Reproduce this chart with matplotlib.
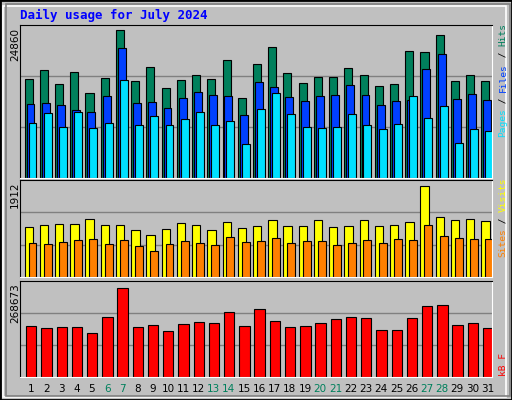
import numpy as np
import matplotlib
matplotlib.use('Agg')
import matplotlib.pyplot as plt
from matplotlib.patches import Rectangle

days = list(range(1, 32))
weekend = [6, 7, 13, 14, 20, 21, 27, 28]

hits = [16080, 17550, 15260, 17220, 13790, 16240, 24090, 15750, 18040, 14610, 15910,
        16730, 16080, 19180, 12970, 18530, 21310, 17060, 15420, 16400, 16400, 17880,
        16730, 14930, 15260, 20660, 20490, 23270, 15750, 16730, 15750]
files = [11990, 12150, 11830, 11010, 10680, 13300, 21150, 12150, 12320, 11340, 12970,
         13950, 13460, 13300, 10190, 15590, 14770, 13130, 12480, 13300, 13460, 15100,
         13460, 11830, 12480, 12640, 17710, 20170, 12810, 13630, 12640]
pages = [8880, 10520, 8230, 10680, 8070, 8880, 15910, 8560, 10030, 8560, 9540,
         10680, 8560, 9210, 5450, 11170, 13790, 10360, 8230, 8070, 8230, 10360,
         8560, 7900, 8720, 13300, 9700, 11660, 5610, 7900, 7580]
visits = [995, 1034, 1053, 1053, 1151, 1034, 1034, 936, 819, 956, 1073, 1034, 936, 1092,
          975, 1014, 1131, 1014, 1014, 1131, 995, 1014, 1131, 1014, 1034, 1092, 1794,
          1190, 1131, 1151, 1112]
sites = [663, 644, 683, 722, 741, 644, 722, 605, 507, 644, 702, 663, 624, 780, 683, 702,
         761, 663, 702, 702, 624, 663, 722, 663, 741, 722, 1034, 800, 761, 741, 741]
kbytes = [142020, 136590, 139310, 139310, 123030, 169160, 247860, 139310, 144740,
          128450, 147450, 152880, 150160, 182730, 142020, 190870, 155590, 139310,
          142020, 150160, 161020, 169160, 163730, 131170, 131170, 163730, 199010,
          201730, 144740, 150160, 136590]

max_hits = 24860
max_visits = 1912
max_kb = 268673

BG = '#c0c0c0'
GRID = '#808080'
C_HITS, C_FILES, C_PAGES = '#00805c', '#0040ff', '#00e0ff'
C_VISITS, C_SITES, C_KB = '#ffff00', '#ff8000', '#ff0000'
MONO = 'DejaVu Sans Mono'

W, H = 512, 400
fig = plt.figure(figsize=(W / 100, H / 100), dpi=100, facecolor=BG)

# bevelled border
fig.patches.append(Rectangle((0, 0), 1, 1, transform=fig.transFigure, fill=False,
                             edgecolor='black', lw=2))
fig.patches.append(Rectangle((3 / W, 3 / H), 1 - 9 / W, 1 - 9 / H, transform=fig.transFigure,
                             fill=False, edgecolor='white', lw=1.2))
fig.patches.append(Rectangle((6 / W, 4 / H), 1 - 8 / W, 1 - 8 / H, transform=fig.transFigure,
                             fill=False, edgecolor='#808080', lw=1.2))


def px_axes(x0, y0, x1, y1):
    return fig.add_axes([x0 / W, 1 - y1 / H, (x1 - x0) / W, (y1 - y0) / H])


def style(ax, ymax):
    ax.set_facecolor(BG)
    ax.set_xlim(0, 31)
    ax.set_ylim(0, ymax)
    for f in (1 / 3, 2 / 3):
        ax.axhline(ymax * f, color=GRID, lw=1, zorder=0)
    ax.set_xticks([])
    ax.set_yticks([])
    ax.spines['top'].set_color('black')
    ax.spines['left'].set_color('black')
    ax.spines['bottom'].set_color('white')
    ax.spines['right'].set_color('white')


def side_label(x, y_bottom, parts, size=6.8):
    # parts drawn bottom-to-top, rotated 90
    adv = size * 100 / 72 * 0.602
    y = y_bottom
    for txt, col in parts:
        fig.text(x / W, 1 - y / H, txt, rotation=90, color=col, family=MONO,
                 fontsize=size, ha='center', va='bottom')
        y -= adv * len(txt)


x = np.arange(31)
kw = dict(align='edge', edgecolor='black', linewidth=0.8)

ax1 = px_axes(20, 25, 492, 178)
style(ax1, max_hits)
ax1.bar(x + 0.30, hits, 0.53, color=C_HITS, **kw)
ax1.bar(x + 0.43, files, 0.52, color=C_FILES, **kw)
ax1.bar(x + 0.56, pages, 0.52, color=C_PAGES, **kw)

ax2 = px_axes(20, 180, 492, 277)
style(ax2, max_visits)
ax2.bar(x + 0.30, visits, 0.55, color=C_VISITS, **kw)
ax2.bar(x + 0.56, sites, 0.52, color=C_SITES, **kw)

ax3 = px_axes(20, 281, 492, 377)
style(ax3, max_kb)
ax3.bar(x + 0.40, kbytes, 0.68, color=C_KB, **kw)

for d in days:
    col = C_HITS if d in weekend else 'black'
    ax3.text(d - 1 + 0.72, -0.07, str(d), transform=ax3.get_xaxis_transform(),
             ha='center', va='top', fontsize=7.5, color=col)

fig.text(20 / W, 1 - 15 / H, 'Daily usage for July 2024', family=MONO, fontsize=9,
         fontweight='bold', color='#0000ff', ha='left', va='center')

for txt, ytop in [(str(max_hits), 28), (str(max_visits), 181), (str(max_kb), 283)]:
    fig.text(15 / W, 1 - ytop / H, txt, rotation=90, fontsize=7.5, ha='center', va='top')

side_label(503, 137, [('Pages', C_PAGES), (' / ', 'black'), ('Files', C_FILES),
                      (' / ', 'black'), ('Hits', C_HITS)])
side_label(503, 257, [('Sites', C_SITES), (' / ', 'black'), ('Visits', C_VISITS)])
side_label(503, 376, [('kB F', C_KB)])

fig.savefig('out.png', dpi=100, facecolor=BG)
